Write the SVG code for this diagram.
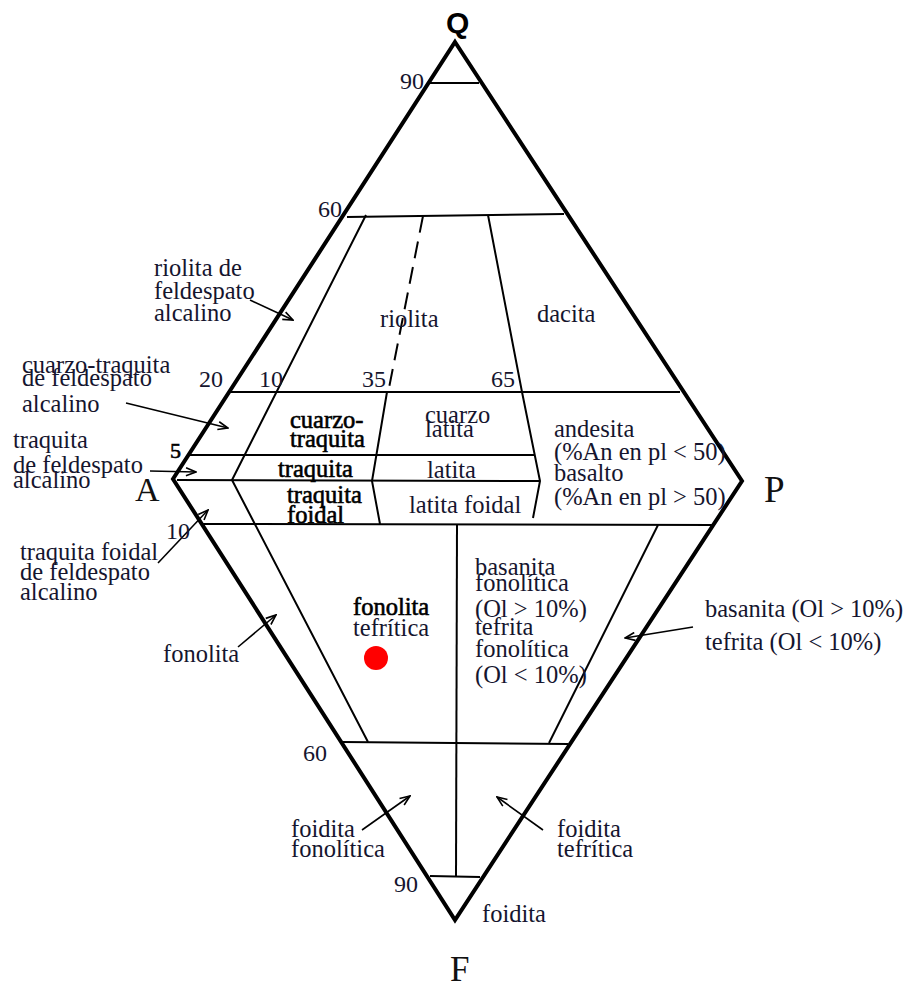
<svg xmlns="http://www.w3.org/2000/svg" width="914" height="990" viewBox="0 0 914 990">
<style>
text{font-family:"Liberation Serif","Times New Roman",serif;font-size:24.5px;fill:#15152e}
.n{font-size:24px}
.b{fill:#000;stroke:#000;stroke-width:0.6}
.big{font-size:34px;fill:#111}
.outer{fill:none;stroke:#000;stroke-width:4;stroke-linejoin:miter}
.ln{fill:none;stroke:#000;stroke-width:2}
.ar{fill:none;stroke:#000;stroke-width:1.6;marker-end:url(#ah)}
</style>
<defs>
<marker id="ah" viewBox="0 0 12 10" refX="11" refY="5" markerWidth="12" markerHeight="10" markerUnits="userSpaceOnUse" orient="auto">
<path d="M1,1 L11,5 L1,9" fill="none" stroke="#000" stroke-width="1.6"/>
</marker>
</defs>
<rect width="914" height="990" fill="#fff"/>
<g id="frame">
<path class="outer" d="M455,42 L742,481 L455,920 L173,479 Z"/>
<text x="446" y="33" style="font-family:'Liberation Sans',Arial,sans-serif;font-weight:bold;font-size:30px;fill:#000">Q</text>
<text class="big" x="135" y="501">A</text>
<text class="big" x="764" y="502" style="font-size:37px">P</text>
<text class="big" x="450" y="981" style="font-size:35px">F</text>
</g>
<g id="grid">
<line class="ln" x1="430" y1="83" x2="479" y2="83"/>
<line class="ln" x1="347" y1="217" x2="564" y2="214"/>
<line class="ln" x1="230" y1="392" x2="680" y2="392"/>
<line class="ln" x1="190" y1="455" x2="535" y2="455"/>
<line class="ln" x1="177" y1="480" x2="540" y2="481"/>
<line class="ln" x1="200" y1="524" x2="712" y2="525"/>
<line class="ln" x1="343" y1="742" x2="568" y2="744"/>
<line class="ln" x1="430" y1="876" x2="480" y2="877"/>
<polyline class="ln" points="366,215 232,480 368,742"/>
<line class="ln" x1="423" y1="216" x2="388" y2="393" stroke-dasharray="17 9"/>
<polyline class="ln" points="387,392 372,481 380,524"/>
<polyline class="ln" points="488,215 522,392 540,481 533,518"/>
<line class="ln" x1="457" y1="524" x2="456" y2="877"/>
<line class="ln" x1="658" y1="525" x2="549" y2="743"/>
<circle cx="376" cy="658" r="12" fill="#f00"/>
</g>
<g id="connectors">
<line class="ar" x1="250" y1="300" x2="293" y2="320"/>
<line class="ar" x1="126" y1="403" x2="228" y2="428"/>
<line class="ar" x1="150" y1="471" x2="196" y2="472"/>
<line class="ar" x1="158" y1="563" x2="208" y2="510"/>
<line class="ar" x1="238" y1="647" x2="276" y2="615"/>
<line class="ar" x1="693" y1="627" x2="625" y2="638"/>
<line class="ar" x1="362" y1="830" x2="410" y2="796"/>
<line class="ar" x1="543" y1="830" x2="497" y2="797"/>
</g>
<g id="numbers">
<text class="n" x="400" y="89">90</text>
<text class="n" x="318" y="217">60</text>
<text class="n" x="199" y="387">20</text>
<text class="n" x="259" y="387">10</text>
<text class="n" x="362" y="387">35</text>
<text class="n" x="491" y="387">65</text>
<text class="n b" x="170" y="458" style="font-size:22px">5</text>
<text class="n" x="166" y="539">10</text>
<text class="n" x="303" y="761">60</text>
<text class="n" x="394" y="892">90</text>
</g>
<g id="labels">
<text x="154" y="276">riolita de</text>
<text x="154" y="299">feldespato</text>
<text x="154" y="321">alcalino</text>
<text x="380" y="327">riolita</text>
<text x="537" y="322">dacita</text>
<text x="22" y="373">cuarzo-traquita</text>
<text x="22" y="386">de feldespato</text>
<text x="22" y="412">alcalino</text>
<text class="b" x="290" y="428">cuarzo-</text>
<text class="b" x="290" y="447">traquita</text>
<text x="425" y="423">cuarzo</text>
<text x="425" y="437">latita</text>
<text x="554" y="437">andesita</text>
<text x="554" y="460">(%An en pl &lt; 50)</text>
<text x="554" y="481">basalto</text>
<text x="554" y="505">(%An en pl &gt; 50)</text>
<text x="13" y="448">traquita</text>
<text x="13" y="473">de feldespato</text>
<text x="13" y="488">alcalino</text>
<text class="b" x="278" y="477">traquita</text>
<text x="427" y="478">latita</text>
<text class="b" x="287" y="503">traquita</text>
<text class="b" x="287" y="523">foidal</text>
<text x="409" y="513">latita foidal</text>
<text x="20" y="560">traquita foidal</text>
<text x="20" y="580">de feldespato</text>
<text x="20" y="600">alcalino</text>
<text x="163" y="662">fonolita</text>
<text class="b" x="353" y="615">fonolita</text>
<text x="353" y="636">tefrítica</text>
<text x="475" y="575">basanita</text>
<text x="475" y="591">fonolítica</text>
<text x="475" y="617">(Ol &gt; 10%)</text>
<text x="475" y="635">tefrita</text>
<text x="475" y="657">fonolítica</text>
<text x="475" y="683">(Ol &lt; 10%)</text>
<text x="705" y="617">basanita (Ol &gt; 10%)</text>
<text x="705" y="650">tefrita (Ol &lt; 10%)</text>
<text x="291" y="837">foidita</text>
<text x="291" y="857">fonolítica</text>
<text x="557" y="837">foidita</text>
<text x="557" y="857">tefrítica</text>
<text x="482" y="922">foidita</text>
</g>
</svg>
